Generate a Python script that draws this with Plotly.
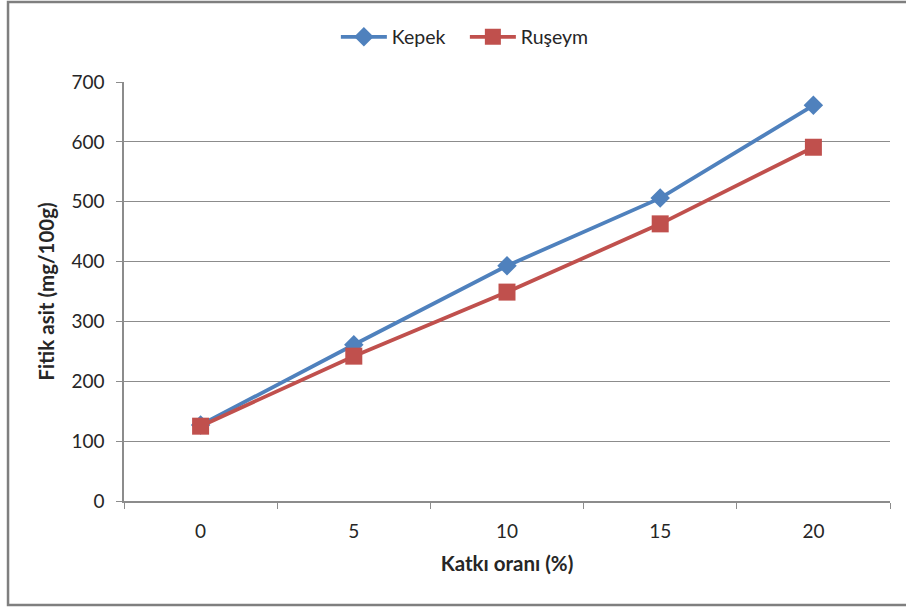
import plotly.graph_objects as go

categories = ["0", "5", "10", "15", "20"]
kepek = [127, 261, 393, 506, 661]
ruseym = [125, 242, 349, 463, 591]
y_ticks = [0, 100, 200, 300, 400, 500, 600, 700]

FONT = "Lato, 'Open Sans', sans-serif"
GRID = "#8c8c8c"

fig = go.Figure()
fig.add_trace(go.Scatter(
    x=categories, y=kepek, name="Kepek", mode="lines+markers",
    line=dict(color="#4F81BD", width=3.8),
    marker=dict(symbol="diamond", size=15, color="#4F81BD"),
))
fig.add_trace(go.Scatter(
    x=categories, y=ruseym, name="Ruşeym", mode="lines+markers",
    line=dict(color="#C0504D", width=3.8),
    marker=dict(symbol="square", size=17, color="#C0504D"),
))

fig.update_layout(
    width=906, height=607,
    margin=dict(l=124, r=16, t=82, b=106, autoexpand=False),
    paper_bgcolor="white", plot_bgcolor="white",
    font=dict(family=FONT, size=19, color="#262626"),
    showlegend=True,
    legend=dict(orientation="h", x=0.445, xanchor="center", y=1.107, yanchor="middle",
                font=dict(size=19.5), itemwidth=46, entrywidth=68, traceorder="normal",
                bgcolor="rgba(0,0,0,0)"),
    xaxis=dict(
        type="category", range=[-0.5, 4.5],
        tickson="boundaries", ticks="outside", ticklen=6, tickcolor=GRID,
        showline=True, linecolor=GRID, linewidth=1.5,
        showgrid=False, zeroline=False,
        tickfont=dict(size=19), ticklabelstandoff=12,
        title=dict(text="<b>Katkı oranı (%)</b>", font=dict(size=20.5), standoff=16),
    ),
    yaxis=dict(
        range=[0, 700], tickvals=y_ticks,
        ticks="outside", ticklen=6, tickcolor=GRID,
        showline=True, linecolor=GRID, linewidth=1.5,
        showgrid=True, gridcolor=GRID, gridwidth=1, zeroline=False,
        tickfont=dict(size=19), ticklabelstandoff=8,
        title=dict(text="<b>Fitik asit (mg/100g)</b>", font=dict(size=20.5), standoff=11),
    ),
    shapes=[dict(type="rect", xref="paper", yref="paper",
                 x0=-0.1514, x1=1.1, y0=-0.248, y1=1.191,
                 line=dict(color="#7f7f7f", width=2.5), layer="below")],
)

fig.write_html("out.html", config={"displayModeBar": False},
               post_script="document.body.style.margin='0';")
